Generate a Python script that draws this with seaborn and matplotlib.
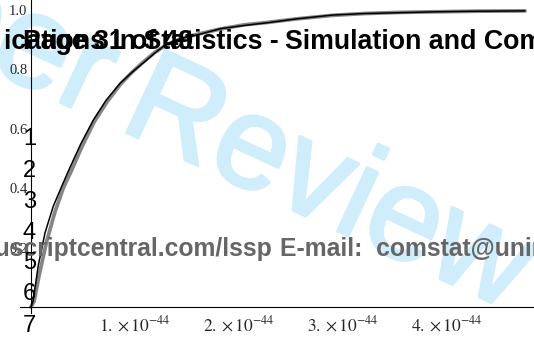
import numpy as np
import pandas as pd
import matplotlib
matplotlib.use("Agg")
import matplotlib.pyplot as plt
import matplotlib.patheffects as pe
import seaborn as sns
from matplotlib.ticker import FixedLocator

# ---- data (x in units of 1e-44) ----
black_x = [0, 0.02, 0.07, 0.135, 0.215, 0.3, 0.375, 0.48, 0.6, 0.72, 0.856, 0.97, 1.08,
           1.19, 1.3, 1.45, 1.62, 1.82, 2.05, 2.27, 2.55, 2.9, 3.2, 3.55, 3.9, 4.3, 4.75]
black_y = [0, 0.02, 0.14, 0.25, 0.34, 0.41, 0.47, 0.55, 0.63, 0.695, 0.753, 0.79, 0.822,
           0.855, 0.885, 0.905, 0.918, 0.937, 0.948, 0.957, 0.97, 0.983, 0.988, 0.991, 0.994, 0.996, 0.997]
gray_x = [0, 0.03, 0.08, 0.15, 0.23, 0.31, 0.39, 0.49, 0.61, 0.73, 0.86, 0.97, 1.08,
          1.19, 1.3, 1.45, 1.62, 1.82, 2.05, 2.27, 2.55, 2.9, 3.2, 3.55, 3.9, 4.3, 4.75]
gray_y = [0, 0.02, 0.11, 0.22, 0.32, 0.40, 0.46, 0.54, 0.625, 0.69, 0.75, 0.79, 0.825,
          0.857, 0.882, 0.905, 0.92, 0.936, 0.95, 0.958, 0.97, 0.982, 0.988, 0.992, 0.994, 0.996, 0.997]

x_major = [1, 2, 3, 4]
x_labels = [r"$1.\times10^{-44}$", r"$2.\times10^{-44}$", r"$3.\times10^{-44}$", r"$4.\times10^{-44}$"]
y_major = [0.2, 0.4, 0.6, 0.8, 1.0]
y_labels = ["0.2", "0.4", "0.6", "0.8", "1.0"]

line_numbers = ["1", "2", "3", "4", "5", "6", "7"]
line_baselines_px = [145, 177, 208, 239, 269, 300, 332]

header_left = "ications in Statistics -"
header_right = "Simulation and Computation"
page_text = "Page 31 of 49"
url_text = "http://mc.manuscriptcentral.com/lssp"
email_text = "E-mail:  comstat@unimelb.edu.au"
watermark_left = "For Peer"
watermark_right = "Review"

# ---- figure ----
sns.set_style("white")
plt.rcParams["mathtext.fontset"] = "stix"
W, H = 534, 339
fig = plt.figure(figsize=(W / 100, H / 100), dpi=100)
ax = fig.add_axes([0, 0, 1, 1])
ax.set_facecolor("white")

def fx(px):
    return px / W

def fy(py):
    return 1 - py / H

# watermark behind the curves
wm_col = "#cfedfb"
wm_kw = dict(transform=fig.transFigure, rotation=-25, rotation_mode="anchor",
             va="baseline", fontsize=95, family="Liberation Sans",
             color=wm_col, zorder=0.5,
             path_effects=[pe.withStroke(linewidth=2.2, foreground=wm_col)])
ax.text(fx(117), fy(128), watermark_right, ha="left", **wm_kw)
ax.text(fx(92), fy(117), watermark_left, ha="right", **wm_kw)

df_g = pd.DataFrame({"x": gray_x, "y": gray_y})
df_b = pd.DataFrame({"x": black_x, "y": black_y})
sns.lineplot(data=df_g, x="x", y="y", ax=ax, color="#858585", lw=2.7, sort=False, zorder=2)
sns.lineplot(data=df_b, x="x", y="y", ax=ax, color="black", lw=1.1, sort=False, zorder=3)

ax.set_xlim(-31 / 104, (W - 31) / 104)
ax.set_ylim((307 - H) / 297, 307 / 297)
ax.set_xlabel("")
ax.set_ylabel("")

for s in ["top", "right"]:
    ax.spines[s].set_visible(False)
ax.spines["left"].set_position(("data", 0))
ax.spines["bottom"].set_position(("data", 0))
ax.spines["left"].set_bounds(-0.02, 307 / 297)
ax.spines["bottom"].set_bounds(-0.106, (W - 31) / 104)
for s in ["left", "bottom"]:
    ax.spines[s].set_color("black")
    ax.spines[s].set_linewidth(0.8)

ax.xaxis.set_major_locator(FixedLocator(x_major))
ax.set_xticklabels(x_labels, fontsize=12.5)
ax.xaxis.set_minor_locator(FixedLocator([v / 5 for v in range(1, 25) if v % 5 != 0]))
ax.yaxis.set_major_locator(FixedLocator(y_major))
ax.set_yticklabels(y_labels, fontsize=10.5, family="Liberation Serif")
ax.yaxis.set_minor_locator(FixedLocator([v / 20 for v in range(1, 21) if v % 4 != 0]))
ax.tick_params(which="major", direction="in", length=4, width=0.8, color="black")
ax.tick_params(which="minor", direction="in", length=2.2, width=0.7, color="black")
ax.tick_params(axis="x", which="major", pad=6)
ax.tick_params(axis="y", which="major", pad=2.5)
ax.grid(False)

# overlaid page text
hfs = 19.3
fig.text(fx(279), fy(49), header_left, ha="right", va="baseline", fontsize=hfs,
         family="Liberation Sans", weight="bold", color="black")
fig.text(fx(285), fy(49), header_right, ha="left", va="baseline", fontsize=hfs,
         family="Liberation Sans", weight="bold", color="black")
fig.text(fx(23), fy(49), page_text, ha="left", va="baseline", fontsize=19.2,
         family="Liberation Sans", weight="bold", color="black")
efs = 17.8
fig.text(fx(272), fy(256), url_text, ha="right", va="baseline", fontsize=efs,
         family="Liberation Sans", weight="bold", color="#666666")
fig.text(fx(280), fy(256), email_text, ha="left", va="baseline", fontsize=efs,
         family="Liberation Sans", weight="bold", color="#666666")

for lab, b in zip(line_numbers, line_baselines_px):
    fig.text(fx(36), fy(b), lab, ha="right", va="baseline", fontsize=17,
             family="Liberation Sans", color="black")

fig.savefig("out.png", dpi=100)
